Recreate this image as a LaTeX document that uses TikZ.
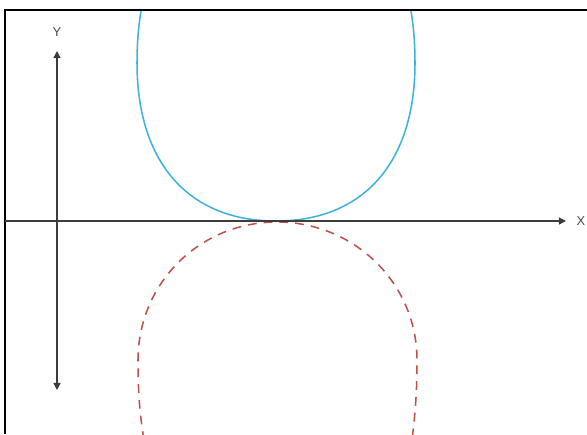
\documentclass[tikz,border=0pt]{standalone}
\usepackage{fontspec}
\setmainfont{Liberation Sans}
\usetikzlibrary{arrows.meta}
\definecolor{curveblue}{RGB}{62,178,216}
\definecolor{curvered}{RGB}{190,80,72}
\definecolor{axisgray}{RGB}{60,60,60}
\definecolor{labelgray}{RGB}{70,70,70}
\begin{document}
\begin{tikzpicture}[x=0.03cm,y=-0.03cm,
  framestyle/.style={line width=1.2pt,black},
  axisstyle/.style={line width=1.1pt,axisgray},
  tipstyle/.style={-{Triangle[length=6pt,width=6pt]}},
  bothtips/.style={{Triangle[length=6pt,width=6pt]}-{Triangle[length=6pt,width=6pt]}},
  axislabel/.style={inner sep=0pt,font=\fontsize{11}{12}\selectfont,text=labelgray},
  bluecurve/.style={line width=1.3pt,curveblue},
  redcurve/.style={line width=1.3pt,curvered,dash pattern=on 7.5pt off 6pt}]
\useasboundingbox (0,0) rectangle (587,434);
\begin{scope}
\clip (0,10) rectangle (587,434);
% blue curve
\draw[bluecurve] (143,0) .. controls (140,15) and (137,35) .. (137,63)
  .. controls (137,162) and (188,221) .. (276,221)
  .. controls (364,221) and (415,162) .. (415,63)
  .. controls (415,35) and (412,15) .. (409,0);
% red dashed curve
\draw[redcurve] (144,440) .. controls (140,415) and (138,395) .. (138,360)
  .. controls (138,283) and (200,222) .. (277,222)
  .. controls (354,222) and (417,283) .. (417,360)
  .. controls (417,395) and (415,415) .. (412,440);
\end{scope}
% frame
\draw[framestyle] (5,434) -- (5,10) -- (587,10);
% axes
\coordinate (xs) at (5,221);
\coordinate (xe) at (566,221);
\coordinate (ys) at (57,390);
\coordinate (ye) at (57,51);
\draw[axisstyle,tipstyle] (xs) -- (xe);
\draw[axisstyle,bothtips] (ys) -- (ye);
\node[axislabel] (xl) at (581,221) {X};
\node[axislabel] (yl) at (57,32) {Y};
\end{tikzpicture}
\end{document}
